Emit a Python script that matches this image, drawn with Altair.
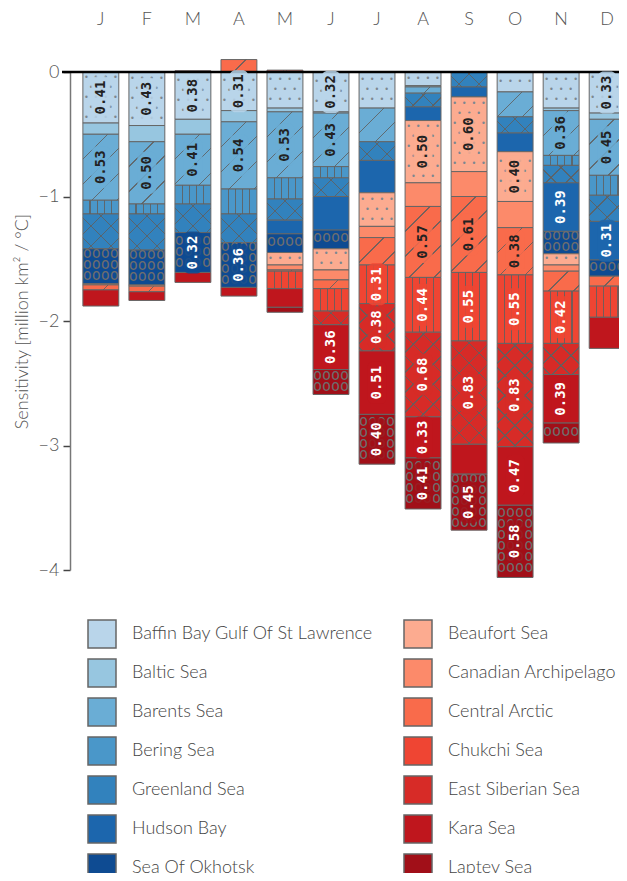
import json
import altair as alt
import pandas as pd

months = ["J", "F", "M", "A", "M", "J", "J", "A", "S", "O", "N", "D"]

regions = [
    "Baffin Bay Gulf Of St Lawrence", "Baltic Sea", "Barents Sea", "Bering Sea",
    "Greenland Sea", "Hudson Bay", "Sea Of Okhotsk",
    "Beaufort Sea", "Canadian Archipelago", "Central Arctic", "Chukchi Sea",
    "East Siberian Sea", "Kara Sea", "Laptev Sea",
]
region_colors = [
    "#b9d5ea", "#97c6e0", "#6aadd5", "#4a97c9", "#3282bd", "#1c66ad", "#0e4b92",
    "#fcab90", "#fc8a6a", "#f96b4b", "#ef4533", "#d72b27", "#bf161d", "#a10f18",
]
white_text = ["Hudson Bay", "Sea Of Okhotsk", "Chukchi Sea", "East Siberian Sea",
              "Kara Sea", "Laptev Sea"]
dotted = ["Baffin Bay Gulf Of St Lawrence", "Beaufort Sea"]
hatched = ["Barents Sea", "Central Arctic"]
crossed = ["Greenland Sea", "East Siberian Sea"]
striped = ["Bering Sea", "Chukchi Sea"]
circled = ["Sea Of Okhotsk", "Laptev Sea"]

# sensitivity per region, Jan..Dec (million km² / °C)
baffin = [-0.41, -0.43, -0.38, -0.31, -0.29, -0.32, -0.29, -0.11, 0, -0.16, -0.29, -0.33]
baltic = [-0.09, -0.13, -0.12, -0.09, -0.03, -0.01, 0, -0.01, 0, 0, -0.02, -0.05]
barents = [-0.53, -0.50, -0.41, -0.54, -0.53, -0.43, -0.27, -0.05, 0, -0.20, -0.36, -0.45]
bering = [-0.11, -0.08, -0.15, -0.20, -0.17, -0.09, 0, 0, 0, 0, -0.08, -0.16]
greenland = [-0.28, -0.29, -0.23, -0.23, -0.17, -0.15, -0.15, -0.11, -0.12, -0.13, -0.14, -0.21]
hudson = [0, 0, 0, 0, -0.11, -0.27, -0.26, -0.11, -0.08, -0.15, -0.39, -0.31]
okhotsk = [-0.28, -0.28, -0.32, -0.36, -0.15, -0.15, 0, 0, 0, 0, -0.18, -0.13]
beaufort = [0, 0, 0, 0, -0.10, -0.17, -0.27, -0.50, -0.60, -0.40, -0.09, 0]
canadian = [-0.01, -0.01, 0, 0, -0.04, -0.08, -0.09, -0.19, -0.20, -0.21, -0.05, 0]
central = [-0.04, -0.045, 0, 0.10, -0.01, -0.07, -0.22, -0.57, -0.61, -0.38, -0.16, -0.08]
chukchi = [0, 0, 0, 0, -0.14, -0.18, -0.31, -0.44, -0.55, -0.55, -0.42, -0.25]
east_siberian = [0, 0, 0, 0, 0.015, -0.11, -0.38, -0.68, -0.83, -0.83, -0.25, 0]
kara = [-0.13, -0.07, -0.08, -0.07, -0.15, -0.36, -0.51, -0.33, -0.24, -0.47, -0.39, -0.25]
laptev = [0, 0, 0.01, 0, -0.04, -0.20, -0.40, -0.41, -0.45, -0.58, -0.16, 0]

series = [baffin, baltic, barents, bering, greenland, hudson, okhotsk,
          beaufort, canadian, central, chukchi, east_siberian, kara, laptev]

rows = []
for ri, (name, vals) in enumerate(zip(regions, series)):
    for mi, v in enumerate(vals):
        if v != 0:
            rows.append({"mi": mi, "region": name, "order": ri, "value": v})
df = pd.DataFrame(rows)

FONT = "Lato"
W, H = 549, 498          # visible plot area
XR = 568                 # pixel extent of the month band scale
PX = H / 4.0             # pixels per unit on the y scale
BW = 35.9                # bar (band) width in pixels
TRANSP = "rgba(0,0,0,0)"
LINE = "rgba(95,95,95,0.85)"


def stripe_stops(period, span, lw):
    """Sharp transparent/grey stops: thin lines every `period` px over `span` px."""
    stops = [{"offset": 0, "color": TRANSP}]
    k = 1
    while k * period < span:
        o = k * period / span
        h = lw / 2 / span
        stops += [
            {"offset": round(o - h, 5), "color": TRANSP},
            {"offset": round(o - h, 5), "color": LINE},
            {"offset": round(o + h, 5), "color": LINE},
            {"offset": round(o + h, 5), "color": TRANSP},
        ]
        k += 1
    stops.append({"offset": 1, "color": TRANSP})
    return stops


L = 170.0
den = f"({BW}*{BW}+datum.hp*datum.hp)"


def grad_up(stops):
    return ("{gradient: 'linear', x1: 0, y1: 0, "
            f"x2: {L}*{BW}/{den}, y2: {L}*datum.hp/{den}, stops: {stops}}}")


def grad_down(stops):
    return ("{gradient: 'linear', x1: 1, y1: 0, "
            f"x2: 1 - {L}*{BW}/{den}, y2: {L}*datum.hp/{den}, stops: {stops}}}")


hatch_stops = json.dumps(stripe_stops(25, L, 1.5))
cross_stops = json.dumps(stripe_stops(20, L, 1.5))
vstripe = {"gradient": "linear", "x1": 0, "y1": 0, "x2": 1, "y2": 0,
           "stops": stripe_stops(BW / 5, BW, 1.2)}

base = (
    alt.Chart(df)
    .transform_stack(stack="value", groupby=["mi"],
                     sort=[alt.SortField("order", order="ascending")],
                     as_=["v0", "v1"])
    .transform_calculate(
        mid="(datum.v0 + datum.v1) / 2",
        top="max(datum.v0, datum.v1)",
        hp=f"abs(datum.value) * {PX}",
        label="format(abs(datum.value), '.2f')",
        tc="indexof(" + json.dumps(white_text) + ", datum.region) >= 0 ? 'white' : '#222222'",
    )
)


def only(names):
    return "indexof(" + json.dumps(names) + ", datum.region) >= 0"


x_enc = alt.X(
    "mi:O",
    scale=alt.Scale(range=[0, XR], paddingInner=0.22, paddingOuter=0.28),
    axis=alt.Axis(
        orient="top", title=None, domain=False, ticks=False, labelAngle=0,
        labelExpr=json.dumps(months) + "[datum.value]",
        labelPadding=44, labelFontSize=18, labelFont=FONT, labelFontWeight=300,
        labelColor="#555555",
    ),
)
x_plain = alt.X("mi:O")

bars = base.mark_bar(stroke="#666666", strokeWidth=1).encode(
    x=x_enc,
    y=alt.Y(
        "v0:Q",
        scale=alt.Scale(domain=[-4, 0], nice=False, zero=False),
        axis=alt.Axis(
            values=[0, -1, -2, -3, -4], grid=False, format="d",
            title="Sensitivity [million km² / °C]",
            titleFont=FONT, titleFontSize=18, titleFontWeight=300,
            titleColor="#555555", titlePadding=7,
            labelFont=FONT, labelFontSize=18, labelFontWeight=300,
            labelColor="#555555", labelPadding=4,
            tickSize=7, tickColor="#444444", tickWidth=1.5,
            domainColor="#777777", domainWidth=1.5,
        ),
    ),
    y2="v1:Q",
    color=alt.Color(
        "region:N",
        scale=alt.Scale(domain=regions, range=region_colors),
        legend=alt.Legend(
            title=None, orient="none", legendX=17, legendY=547, columns=2,
            symbolType="square", symbolSize=784, symbolStrokeColor="#666666",
            symbolStrokeWidth=1.5, symbolOpacity=1,
            labelFont=FONT, labelFontSize=18, labelFontWeight=300,
            labelColor="#444444", labelOffset=15, labelLimit=400,
            rowPadding=5, columnPadding=27, padding=0,
        ),
    ),
)

stripes = base.transform_filter(only(striped)).mark_bar(strokeWidth=0).encode(
    x=x_plain, y="v0:Q", y2="v1:Q", fill=alt.value(vstripe)
)

hatch = (
    base.transform_filter(only(hatched))
    .transform_calculate(ga=grad_up(hatch_stops))
    .mark_bar(strokeWidth=0)
    .encode(x=x_plain, y="v0:Q", y2="v1:Q", fill=alt.Fill("ga:N", scale=None))
)
cross_a = (
    base.transform_filter(only(crossed))
    .transform_calculate(gc=grad_up(cross_stops))
    .mark_bar(strokeWidth=0)
    .encode(x=x_plain, y="v0:Q", y2="v1:Q", fill=alt.Fill("gc:N", scale=None))
)
cross_b = (
    base.transform_filter(only(crossed))
    .transform_calculate(gd=grad_down(cross_stops))
    .mark_bar(strokeWidth=0)
    .encode(x=x_plain, y="v0:Q", y2="v1:Q", fill=alt.Fill("gd:N", scale=None))
)

DOT_LH = 10
dots = (
    base.transform_filter(only(dotted))
    .transform_calculate(
        nd=f"floor(datum.hp / {DOT_LH})",
    )
    .transform_calculate(
        dt="substring(replace(pad('', ceil(datum.nd / 2), '#'), regexp('#', 'g'), "
           "'\u2022 \u2022 \u2022 \u2022\\n \u2022 \u2022 \u2022 \\n'), 0, datum.nd * 8 - 1)",
        dy0=f"datum.top - ((datum.hp - datum.nd * {DOT_LH}) / 2 + {DOT_LH} / 2) / {PX}",
    )
    .mark_text(font="DejaVu Sans Mono", fontSize=8, lineHeight=DOT_LH, lineBreak="\n",
               align="center", baseline="middle", color="#7d8790")
    .encode(x=x_plain, y="dy0:Q", text="dt:N")
)

CIR_LH = 11
circles = (
    base.transform_filter(only(circled))
    .transform_calculate(
        nc=f"floor(datum.hp / {CIR_LH})",
    )
    .transform_calculate(
        ct="substring(replace(pad('', datum.nc, '#'), regexp('#', 'g'), 'oooo\\n'), 0, datum.nc * 5 - 1)",
        cy0=f"datum.top - ((datum.hp - datum.nc * {CIR_LH}) / 2 + {CIR_LH} / 2 - 2) / {PX}",
    )
    .mark_text(font="DejaVu Sans Mono", fontSize=15, lineHeight=CIR_LH, lineBreak="\n",
               align="center", baseline="middle", color="#6e6e6e")
    .encode(x=x_plain, y="cy0:Q", text="ct:N")
)

zero = alt.Chart(pd.DataFrame({"z": [0]})).mark_rule(
    color="black", strokeWidth=2.5
).encode(y="z:Q", x=alt.value(-8), x2=alt.value(W))

labelled = base.transform_filter("abs(datum.value) >= 0.295")

halo = labelled.transform_calculate(
    h0=f"datum.mid + 21 / {PX}", h1=f"datum.mid - 21 / {PX}"
).mark_bar(width=19, cornerRadius=6, opacity=0.85, strokeWidth=0).encode(
    x=x_plain, y="h0:Q", y2="h1:Q", color=alt.Color("region:N", legend=None)
)

labels = labelled.mark_text(
    angle=270, font="DejaVu Sans Mono", fontWeight="bold", fontSize=14,
    baseline="middle", align="center",
).encode(
    x=x_plain,
    y=alt.Y("mid:Q"),
    text="label:N",
    fill=alt.Fill("tc:N", scale=None),
)

chart = (
    alt.layer(bars, stripes, hatch, cross_a, cross_b, dots, circles, zero, halo, labels)
    .properties(
        width=W, height=H,
        autosize=alt.AutoSizeParams(type="none"),
        padding={"left": 62, "top": 64, "right": 0, "bottom": 303},
    )
    .configure_view(stroke=None)
)

chart.save("out.html", embed_options={"renderer": "svg", "actions": False})
